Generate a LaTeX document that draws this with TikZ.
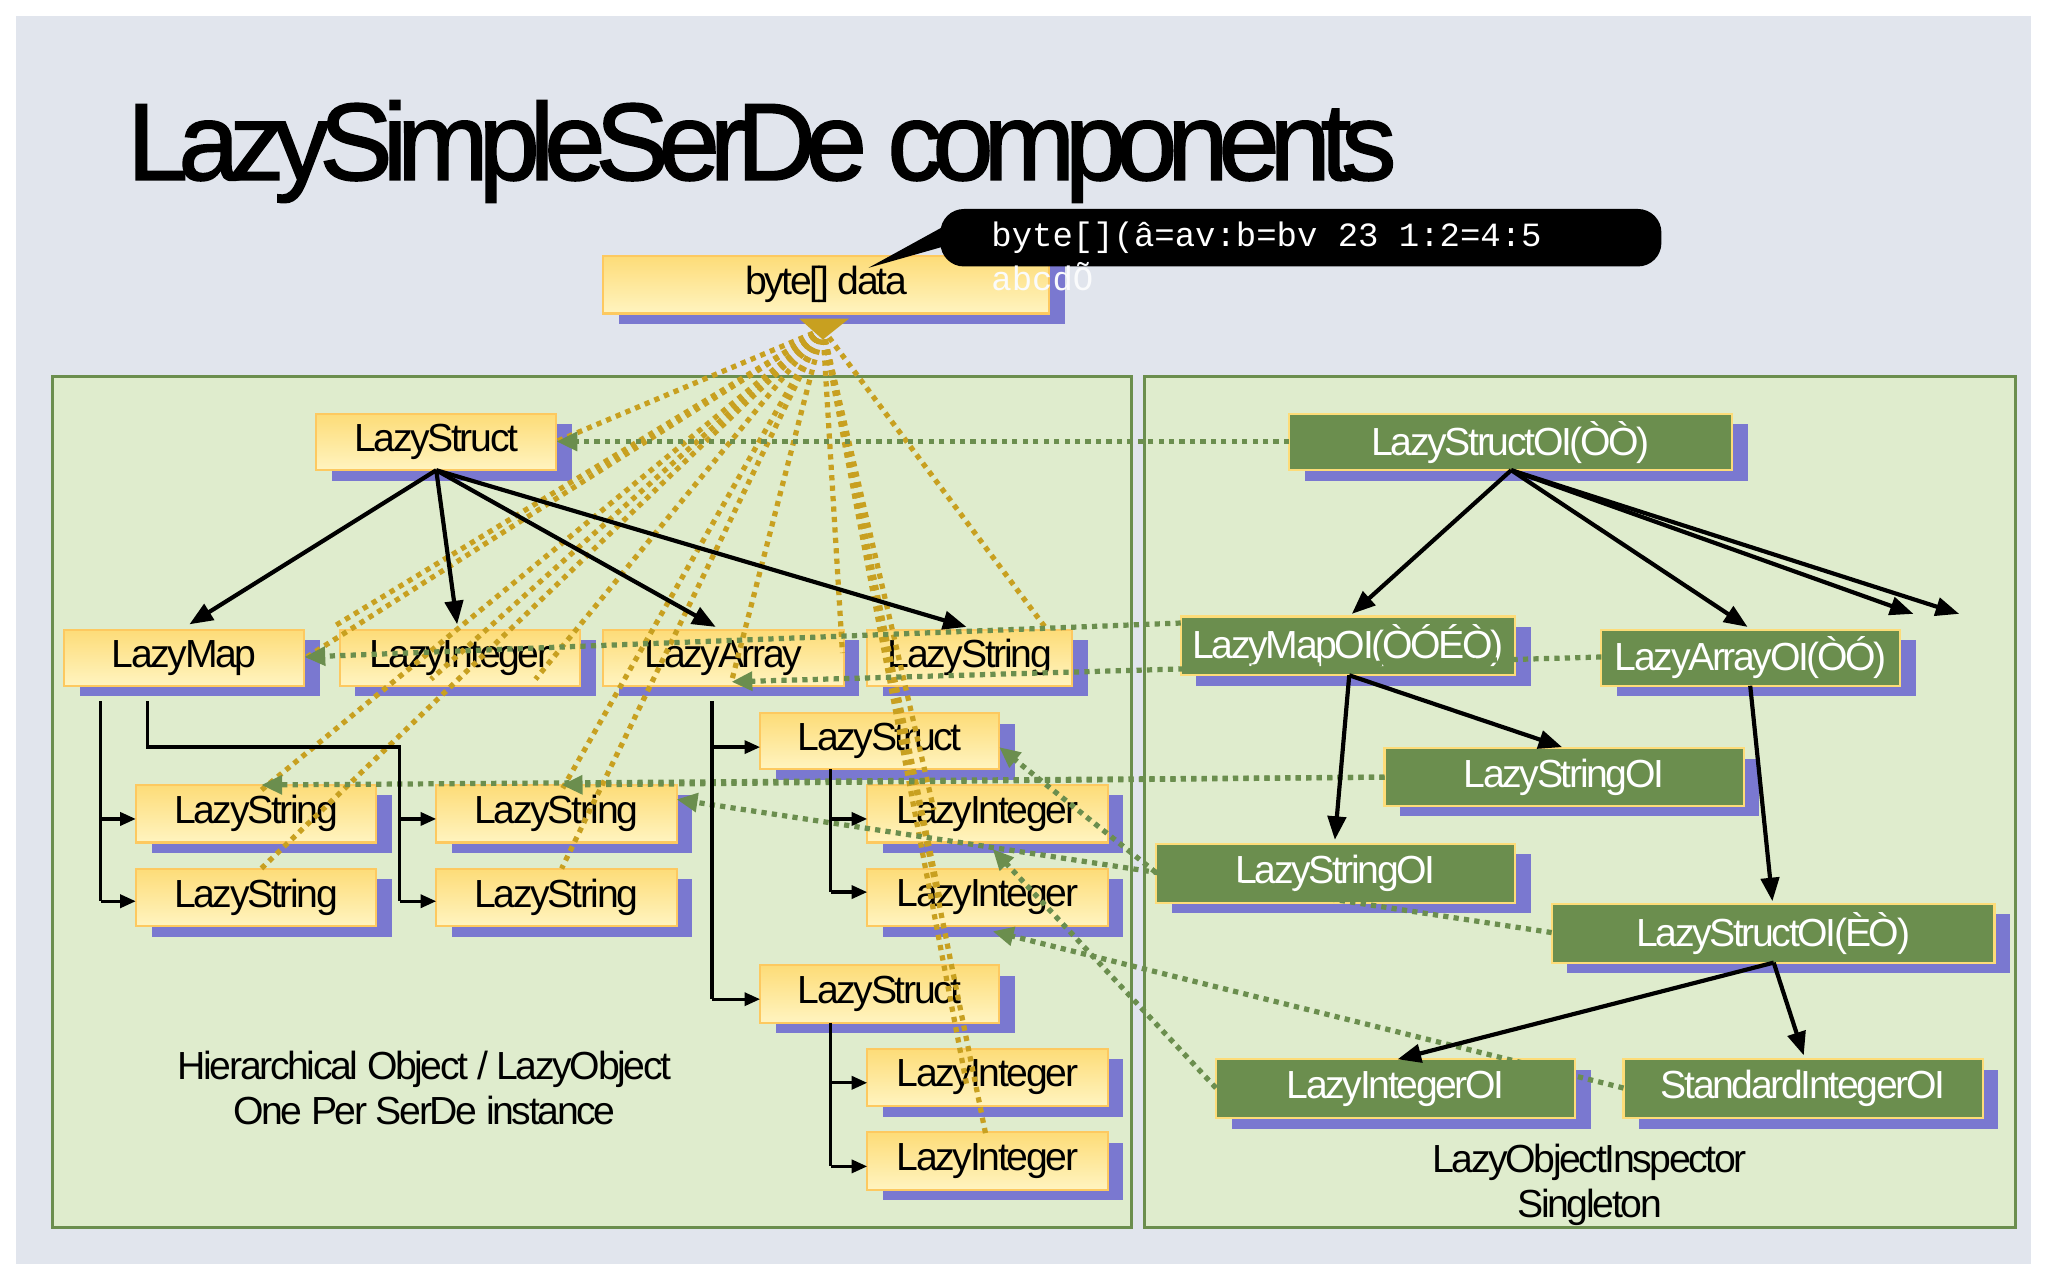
\documentclass[tikz,border=0pt]{standalone}
\usepackage{fontspec}
\setmainfont{Liberation Sans}[LetterSpace=-6]
\newfontfamily\monof{Liberation Mono}
\usetikzlibrary{arrows.meta}
\definecolor{bg}{HTML}{E1E5ED}
\definecolor{pan}{HTML}{DFECCD}
\definecolor{panb}{HTML}{6B8E4E}
\definecolor{gr}{HTML}{6B8E4E}
\definecolor{sh}{HTML}{7A78D0}
\definecolor{gold}{HTML}{C8A020}
\definecolor{ytop}{HTML}{FFF4C0}
\definecolor{ybot}{HTML}{FDDC78}
\begin{document}
\begin{tikzpicture}[x=0.5pt,y=-0.5pt,
 yb/.style={draw=ybot!80!orange,line width=0.8pt,top color=ybot,bottom color=ytop},
 gb/.style={draw=ybot,line width=0.8pt,fill=gr},
 lbl/.style={font=\fontsize{15}{17}\selectfont},
 wlbl/.style={font=\fontsize{15}{17}\selectfont,text=white},
 blk/.style={-{Triangle[length=9pt,width=7pt]},line width=1.6pt},
 el/.style={-{Triangle[length=6pt,width=5pt]},line width=1.3pt},
 gd/.style={gold,line width=2pt,dash pattern=on 2pt off 2pt},
 ggd/.style={gr,line width=2pt,dash pattern=on 2pt off 2pt,-{Triangle[length=8pt,width=7pt]}}]
\useasboundingbox (0,0) rectangle (1568,980);
\fill[white] (0,0) rectangle (1568,980);
\fill[bg] (12,12) rectangle (1555,968);
\node[anchor=west,inner sep=0pt,font=\fontsize{42}{46}\selectfont\addfontfeature{LetterSpace=-9,FakeBold=1.5}] (title) at (97,116) {LazySimpleSerDe components};
\draw[panb,line width=1.2pt,fill=pan] (40,288) rectangle (866,940);
\draw[panb,line width=1.2pt,fill=pan] (876,288) rectangle (1543,940);
\newcommand{\yb}[6]{\fill[sh] (#2+12,#3+8) rectangle (#4+12,#5+8);
 \draw[yb] (#2,#3) rectangle (#4,#5);
 \node[lbl] (#1) at ({(#2+#4)/2},{(#3+#5)/2}) {#6};}
\newcommand{\gbx}[6]{\fill[sh] (#2+12,#3+8) rectangle (#4+12,#5+8);
 \draw[gb] (#2,#3) rectangle (#4,#5);
 \node[wlbl] (#1) at ({(#2+#4)/2},{(#3+#5)/2}) {#6};}
\yb{data}{462}{196}{803}{240}{byte[] data}
\yb{ls}{242}{317}{426}{360}{LazyStruct}
\yb{lm}{49}{482}{233}{525}{LazyMap}
\yb{li}{260}{482}{444}{525}{LazyInteger}
\yb{la}{462}{482}{646}{525}{LazyArray}
\yb{lst}{664}{482}{821}{525}{LazyString}
\yb{ls2}{582}{546}{765}{589}{LazyStruct}
\yb{s1}{104}{601}{288}{645}{LazyString}
\yb{s2}{334}{601}{518}{645}{LazyString}
\yb{s3}{104}{665}{288}{709}{LazyString}
\yb{s4}{334}{665}{518}{709}{LazyString}
\yb{i1}{664}{601}{848}{645}{LazyInteger}
\yb{i2}{664}{665}{848}{709}{LazyInteger}
\yb{ls3}{582}{739}{765}{783}{LazyStruct}
\yb{i3}{664}{803}{848}{847}{LazyInteger}
\yb{i4}{664}{867}{848}{911}{LazyInteger}
\node[lbl,align=center] (lt) at (325,833) {Hierarchical Object / LazyObject\\One Per SerDe instance};
\gbx{oS}{987}{317}{1326}{360}{LazyStructOI(ÒÒ)}
\gbx{oM}{904}{472}{1160}{517}{LazyMapOI(ÒÓÉÒ)}
\gbx{oA}{1226}{482}{1455}{525}{LazyArrayOI(ÒÓ)}
\gbx{oT1}{1060}{573}{1335}{617}{LazyStringOI}
\gbx{oT2}{885}{646}{1160}{691}{LazyStringOI}
\gbx{oS2}{1188}{692}{1527}{737}{LazyStructOI(ÈÒ)}
\gbx{oI}{931}{811}{1206}{856}{LazyIntegerOI}
\gbx{oSI}{1243}{811}{1518}{856}{StandardIntegerOI}
\node[lbl,align=center] (rt) at (1217,907) {LazyObjectInspector\\Singleton};
% callout
\fill[black,rounded corners=9pt] (720,160) rectangle (1272,204);
\fill[black] (725,188) -- (665,205) -- (725,172) -- cycle;
\node[anchor=west,text=white,font=\fontsize{13}{15}\selectfont\monof] (cal) at (752,182) {byte[](â=av:b=bv 23 1:2=4:5};
\node[anchor=west,text=white!85!bg,font=\fontsize{13}{15}\selectfont\monof] (cal2) at (752,212) {abcdÕ};
% gold dotted
\coordinate (src) at (630,252);
\fill[gold] (612,244) -- (650,244) -- (630,260) -- cycle;
\foreach \t in {(426,338),(235,503),(255,480),(200,605),(200,665),(330,520),(430,605),(430,665),(410,520),(560,522),(645,500),(800,480),(715,620),(720,690),(740,830),(755,870)}
  \draw[gd] (src) -- \t;
% green dotted
\draw[ggd] (987,338) -- (426,338);
\draw[ggd] (904,477) -- (233,503);
\draw[ggd] (1226,503) -- (560,522);
\draw[ggd] (1060,595) -- (200,601);
\draw[ggd] (1060,595) -- (430,601);
\draw[ggd] (885,668) -- (765,572);
\draw[ggd] (1188,714) -- (518,612);
\draw[ggd] (931,833) -- (760,650);
\draw[ggd] (1243,833) -- (760,713);
% black arrows left
\coordinate (lsb) at (334,360);
\draw[blk] (lsb) -- (145,478);
\draw[blk] (lsb) -- (350,478);
\draw[blk] (lsb) -- (548,480);
\draw[blk] (lsb) -- (740,480);
\draw[line width=1.3pt] (77,537) -- (77,690);
\draw[el] (77,627) -- (104,627);
\draw[el] (77,690) -- (104,690);
\draw[line width=1.3pt] (113,537) -- (113,572) -- (306,572) -- (306,690);
\draw[el] (306,627) -- (334,627);
\draw[el] (306,690) -- (334,690);
\draw[line width=1.3pt] (545,537) -- (545,765);
\draw[el] (545,572) -- (582,572);
\draw[el] (545,765) -- (582,765);
\draw[line width=1.3pt] (636,589) -- (636,683);
\draw[el] (636,627) -- (664,627);
\draw[el] (636,683) -- (664,683);
\draw[line width=1.3pt] (636,783) -- (636,893);
\draw[el] (636,829) -- (664,829);
\draw[el] (636,893) -- (664,893);
% black arrows right
\coordinate (osb) at (1157,360);
\draw[blk] (osb) -- (1035,470);
\draw[blk] (osb) -- (1338,480);
\draw[blk] (osb) -- (1465,470);
\draw[blk] (osb) -- (1500,470);
\draw[blk] (1033,517) -- (1022,643);
\draw[blk] (1033,517) -- (1196,572);
\draw[blk] (1340,525) -- (1357,690);
\draw[blk] (1358,737) -- (1070,811);
\draw[blk] (1358,737) -- (1381,808);
\end{tikzpicture}
\end{document}
